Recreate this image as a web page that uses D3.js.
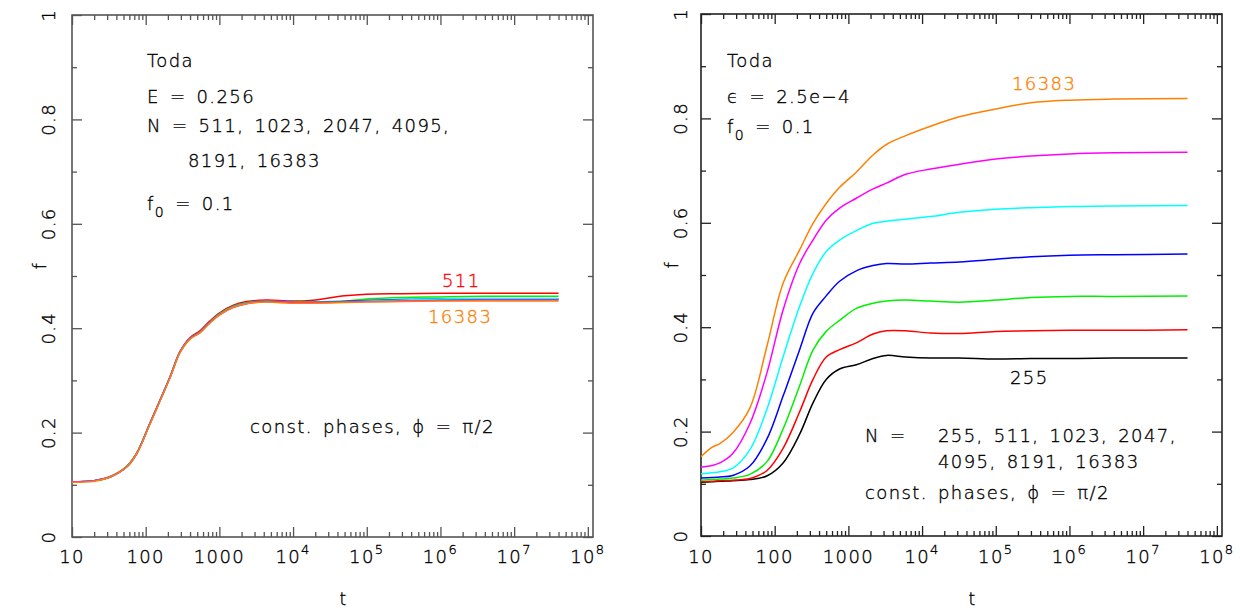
<!DOCTYPE html>
<html lang="en">

<head>
    <meta charset="UTF-8">
    <title>Toda f(t)</title>
    <style>
        html,
        body {
            margin: 0;
            padding: 0;
            background: #fff;
        }

        svg {
            display: block;
        }

        text {
            font-family: "DejaVu Sans", sans-serif;
            font-weight: 200;
            fill: #000;
            stroke: #000;
            stroke-width: 0.35px;
            letter-spacing: 1.4px;
            word-spacing: 3px;
        }
    </style>
</head>

<body>
    <div id="wrapper"></div>

    <script src="https://cdnjs.cloudflare.com/ajax/libs/d3/7.8.5/d3.min.js"></script>
    <script>
        // axis ticks
        const tTicks = [10, 100, 1000, 1e4, 1e5, 1e6, 1e7, 1e8];
        const tTickLabels = [["10", ""], ["100", ""], ["1000", ""], ["10", "4"], ["10", "5"], ["10", "6"], ["10", "7"], ["10", "8"]];
        const fTicks = [0, 0.2, 0.4, 0.6, 0.8, 1];
        const fTickLabels = ["0", "0.2", "0.4", "0.6", "0.8", "1"];
        const fMinor = [0.1, 0.3, 0.5, 0.7, 0.9];

        // left panel: E = 0.256, N = 511 ... 16383
        const leftT = [10, 20, 33, 55, 75, 114, 156, 214, 292, 400, 545, 745, 1020, 1550, 2350, 4370, 9100, 17000, 5e4, 1e5, 3e5, 1e6, 4e6, 4e7];
        const left511 = [.106, .108, .116, .135, .160, .218, .262, .307, .355, .382, .395, .414, .430, .444, .451, .454, .452, .453, .462, .465, .466, .467, .467, .467];
        const left1023 = [.106, .108, .115, .135, .160, .218, .262, .307, .355, .381, .393, .412, .428, .442, .449, .452, .450, .450, .452, .456, .459, .460, .461, .461];
        const left2047 = [.106, .108, .115, .134, .159, .217, .261, .306, .354, .380, .392, .411, .427, .441, .448, .451, .449, .449, .451, .453, .455, .456, .456, .456];
        const left4095 = [.106, .108, .115, .134, .159, .217, .261, .306, .354, .380, .392, .411, .427, .441, .448, .451, .449, .449, .450, .452, .454, .456, .457, .457];
        const left8191 = [.106, .108, .115, .134, .159, .217, .261, .306, .354, .380, .392, .411, .426, .440, .447, .451, .449, .449, .450, .451, .452, .453, .454, .454];
        const left16383 = [.105, .107, .115, .134, .159, .216, .260, .305, .353, .379, .391, .410, .426, .440, .447, .450, .448, .448, .449, .450, .451, .452, .452, .452];

        // right panel: eps = 2.5e-4, N = 255 ... 16383
        const rightT = [10, 14, 18, 27, 46, 78, 130, 218, 331, 500, 760, 1280, 2160, 3280, 6000, 13000, 32000, 1e5, 3e5, 1e6, 4e6, 4e7];
        const right255 = [.103, .104, .105, .106, .108, .115, .140, .195, .255, .300, .320, .328, .340, .346, .343, .341, .341, .339, .340, .340, .341, .341];
        const right511 = [.104, .105, .106, .107, .110, .125, .168, .238, .300, .343, .357, .370, .387, .393, .393, .389, .388, .392, .393, .394, .394, .395];
        const right1023 = [.107, .108, .109, .111, .118, .142, .205, .288, .356, .392, .413, .436, .446, .450, .452, .450, .448, .452, .457, .459, .459, .460];
        const right2047 = [.111, .112, .113, .116, .134, .185, .268, .357, .427, .460, .488, .508, .518, .522, .521, .523, .525, .530, .535, .538, .539, .540];
        const right4095 = [.119, .121, .123, .130, .165, .242, .343, .440, .503, .545, .567, .585, .599, .603, .607, .612, .620, .626, .629, .631, .632, .633];
        const right8191 = [.132, .135, .140, .158, .215, .311, .433, .522, .567, .605, .628, .647, .665, .676, .693, .703, .712, .722, .728, .732, .734, .735];
        const right16383 = [.152, .170, .177, .198, .245, .362, .484, .548, .599, .637, .668, .697, .730, .750, .767, .785, .803, .818, .830, .835, .837, .838];

        const pgColors = { black: "#000000", red: "#ff0000", green: "#00f000", blue: "#0000ff", cyan: "#00ffff", magenta: "#ff00ff", orange: "#ff8000" };

        const svg = d3.select('#wrapper').append('svg')
            .attr('width', 1240)
            .attr('height', 608);

        const tMax = Math.pow(10, 8.07);

        function drawPanel(cfg) {
            const x = d3.scaleLog().domain([10, tMax]).range([cfg.x0, cfg.x1]);
            const y = d3.scaleLinear().domain([0, 1]).range([cfg.y1, cfg.y0]);
            const g = svg.append('g');

            // minor t ticks
            const tMinor = [];
            for (let d = 1; d <= 8; d++) {
                for (let k = 2; k <= 9; k++) {
                    const v = k * Math.pow(10, d);
                    if (v < tMax) tMinor.push(v);
                }
            }

            const axes = [
                [d3.axisBottom(x).tickValues(tTicks).tickSizeInner(-10), `translate(0,${cfg.y1})`],
                [d3.axisBottom(x).tickValues(tMinor).tickSizeInner(-5), `translate(0,${cfg.y1})`],
                [d3.axisTop(x).tickValues(tTicks).tickSizeInner(-10), `translate(0,${cfg.y0})`],
                [d3.axisTop(x).tickValues(tMinor).tickSizeInner(-5), `translate(0,${cfg.y0})`],
                [d3.axisLeft(y).tickValues(fTicks).tickSizeInner(-10), `translate(${cfg.x0},0)`],
                [d3.axisLeft(y).tickValues(fMinor).tickSizeInner(-5), `translate(${cfg.x0},0)`],
                [d3.axisRight(y).tickValues(fTicks).tickSizeInner(-10), `translate(${cfg.x1},0)`],
                [d3.axisRight(y).tickValues(fMinor).tickSizeInner(-5), `translate(${cfg.x1},0)`]
            ];
            axes.forEach(([ax, tr]) => {
                const a = g.append('g').attr('transform', tr)
                    .call(ax.tickSizeOuter(0).tickFormat(''));
                a.select('.domain').remove();
                a.selectAll('.tick line').attr('stroke', cfg.frame).attr('stroke-width', 1.3);
            });

            // frame
            g.append('rect')
                .attr('x', cfg.x0).attr('y', cfg.y0)
                .attr('width', cfg.x1 - cfg.x0).attr('height', cfg.y1 - cfg.y0)
                .attr('fill', 'none')
                .attr('stroke', cfg.frame)
                .attr('stroke-width', 1.6);

            // t tick labels
            tTicks.forEach((t, i) => {
                const txt = g.append('text')
                    .attr('x', x(t))
                    .attr('y', 563)
                    .attr('text-anchor', 'middle')
                    .style('font-size', '18px');
                txt.append('tspan').text(tTickLabels[i][0]);
                if (tTickLabels[i][1]) {
                    txt.append('tspan').attr('dy', -9).style('font-size', '13px').text(tTickLabels[i][1]);
                }
            });

            // f tick labels (rotated)
            fTicks.forEach((v, i) => {
                g.append('text')
                    .attr('transform', `translate(${cfg.x0 - cfg.yLabOff},${y(v)}) rotate(-90)`)
                    .attr('text-anchor', 'middle')
                    .style('font-size', '18px')
                    .text(fTickLabels[i]);
            });

            // axis titles
            g.append('text')
                .attr('transform', `translate(${cfg.x0 - cfg.yLabOff - 9},${y(0.52)}) rotate(-90)`)
                .attr('text-anchor', 'middle')
                .style('font-size', '17px')
                .text('f');
            g.append('text')
                .attr('x', (cfg.x0 + cfg.x1) / 2 + 11)
                .attr('y', 605)
                .attr('text-anchor', 'middle')
                .style('font-size', '17px')
                .text('t');

            // curves
            const line = d3.line()
                .x(d => x(d[0]))
                .y(d => y(d[1]))
                .curve(d3.curveCatmullRom.alpha(0.5));

            cfg.series.forEach(s => {
                g.append('path')
                    .datum(cfg.t.map((t, i) => [t, s.values[i]]))
                    .attr('d', line)
                    .attr('fill', 'none')
                    .attr('stroke', s.color)
                    .attr('stroke-width', 1.5);
            });

            return g;
        }

        function label(g, x, y, parts, color) {
            const txt = g.append('text')
                .attr('x', x)
                .attr('y', y)
                .style('font-size', '18px');
            if (color) txt.style('fill', color).style('stroke', color);
            parts.forEach(p => {
                const ts = txt.append('tspan').text(p.s);
                if (p.sub) ts.attr('dy', 7).style('font-size', '14px');
                if (p.back) ts.attr('dy', -7);
            });
            return txt;
        }

        // left panel
        const gl = drawPanel({
            x0: 72, x1: 593, y0: 15, y1: 537, yLabOff: 17, frame: '#555',
            t: leftT,
            series: [
                { values: left511, color: pgColors.red },
                { values: left1023, color: pgColors.green },
                { values: left2047, color: pgColors.blue },
                { values: left4095, color: pgColors.cyan },
                { values: left8191, color: pgColors.magenta },
                { values: left16383, color: pgColors.orange }
            ]
        });
        label(gl, 147, 67, [{ s: 'Toda' }]);
        label(gl, 147, 103, [{ s: 'E = 0.256' }]);
        label(gl, 147, 132, [{ s: 'N = 511, 1023, 2047, 4095,' }]);
        label(gl, 188, 167, [{ s: '8191, 16383' }]);
        label(gl, 147, 210, [{ s: 'f' }, { s: '0', sub: true }, { s: ' = 0.1', back: true }]);
        label(gl, 250, 433, [{ s: 'const. phases, ϕ = π/2' }]);
        label(gl, 442, 287, [{ s: '511' }], pgColors.red);
        label(gl, 428, 323, [{ s: '16383' }], pgColors.orange);

        // right panel
        const gr = drawPanel({
            x0: 701, x1: 1222, y0: 14, y1: 536, yLabOff: 14, frame: '#222',
            t: rightT,
            series: [
                { values: right255, color: pgColors.black },
                { values: right511, color: pgColors.red },
                { values: right1023, color: pgColors.green },
                { values: right2047, color: pgColors.blue },
                { values: right4095, color: pgColors.cyan },
                { values: right8191, color: pgColors.magenta },
                { values: right16383, color: pgColors.orange }
            ]
        });
        label(gr, 727, 67, [{ s: 'Toda' }]);
        label(gr, 727, 103, [{ s: 'ϵ = 2.5e−4' }]);
        label(gr, 727, 133, [{ s: 'f' }, { s: '0', sub: true }, { s: ' = 0.1', back: true }]);
        label(gr, 1012, 90, [{ s: '16383' }], pgColors.orange);
        label(gr, 1010, 384, [{ s: '255' }], pgColors.black);
        label(gr, 865, 442, [{ s: 'N =' }]);
        label(gr, 938, 442, [{ s: '255, 511, 1023, 2047,' }]);
        label(gr, 938, 468, [{ s: '4095, 8191, 16383' }]);
        label(gr, 865, 499, [{ s: 'const. phases, ϕ = π/2' }]);
    </script>
</body>

</html>
